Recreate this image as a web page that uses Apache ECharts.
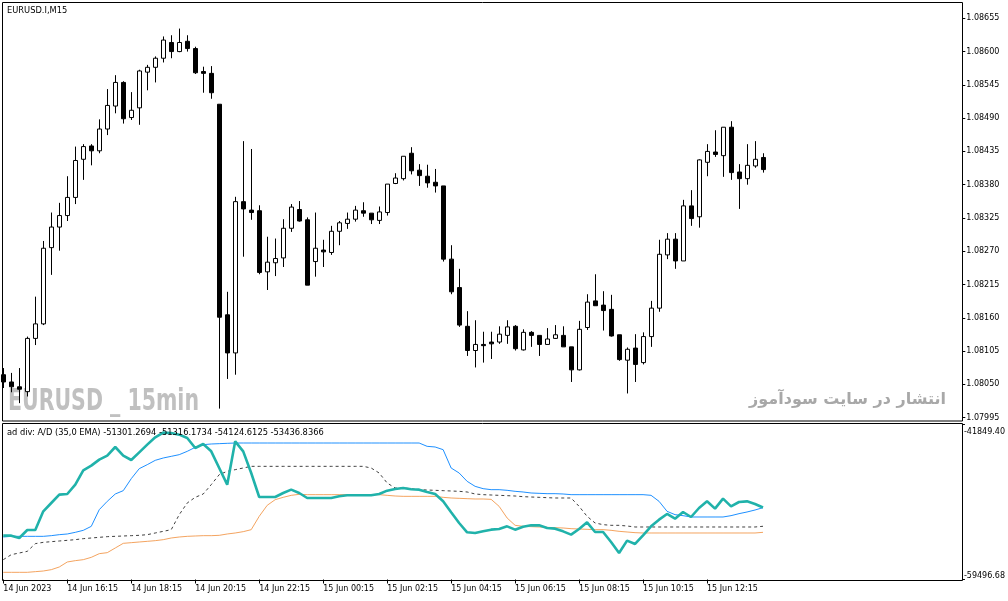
<!DOCTYPE html>
<html>
<head>
<meta charset="utf-8">
<script src="https://cdn.jsdelivr.net/npm/echarts@6/dist/echarts.min.js"></script>
<style>
html,body{margin:0;padding:0;background:#fff;}
#c{width:1008px;height:601px;}
</style>
</head>
<body>
<div id="c"></div>
<script>
// ---- Data ----
const xTickLabels = ["14 Jun 2023","14 Jun 16:15","14 Jun 18:15","14 Jun 20:15","14 Jun 22:15","15 Jun 00:15","15 Jun 02:15","15 Jun 04:15","15 Jun 06:15","15 Jun 08:15","15 Jun 10:15","15 Jun 12:15"];
const priceTicks = [1.07995,1.08050,1.08105,1.08160,1.08215,1.08270,1.08325,1.08380,1.08435,1.08490,1.08545,1.08600,1.08655];
const indTicks = [-59496.68,-41849.40];

const open = [1.08066,1.08054,1.08046,1.08038,1.08126,1.08150,1.08276,1.08310,1.08329,1.08359,
1.08422,1.08444,1.08436,1.08472,1.08510,1.08549,1.08491,1.08507,1.08566,1.08574,
1.08589,1.08615,1.08600,1.08617,1.08605,1.08567,1.08564,1.08513,1.08165,1.08102,
1.08352,1.08338,1.08337,1.08236,1.08251,1.08259,1.08308,1.08339,1.08322,1.08253,
1.08272,1.08268,1.08303,1.08316,1.08323,1.08337,1.08333,1.08321,1.08334,1.08382,
1.08390,1.08432,1.08404,1.08394,1.08384,1.08378,1.08257,1.08210,1.08146,1.08106,
1.08116,1.08120,1.08120,1.08131,1.08146,1.08107,1.08136,1.08131,1.08116,1.08126,
1.08131,1.08112,1.08074,1.08144,1.08188,1.08181,1.08174,1.08132,1.08090,1.08110,
1.08086,1.08129,1.08176,1.08264,1.08290,1.08254,1.08345,1.08327,1.08417,1.08434,
1.08428,1.08475,1.08401,1.08390,1.08411,1.08425];
const high = [1.08077,1.08069,1.08077,1.08129,1.08195,1.08287,1.08334,1.08350,1.08394,1.08443,
1.08447,1.08447,1.08488,1.08538,1.08561,1.08551,1.08533,1.08570,1.08578,1.08592,
1.08625,1.08627,1.08638,1.08627,1.08608,1.08575,1.08576,1.08513,1.08203,1.08360,
1.08452,1.08439,1.08346,1.08294,1.08291,1.08323,1.08348,1.08353,1.08326,1.08334,
1.08289,1.08312,1.08320,1.08334,1.08345,1.08351,1.08333,1.08344,1.08381,1.08399,
1.08427,1.08442,1.08414,1.08413,1.08406,1.08378,1.08280,1.08241,1.08171,1.08156,
1.08137,1.08137,1.08146,1.08156,1.08148,1.08141,1.08138,1.08131,1.08143,1.08148,
1.08146,1.08112,1.08155,1.08199,1.08232,1.08204,1.08198,1.08132,1.08111,1.08133,
1.08136,1.08188,1.08289,1.08300,1.08300,1.08355,1.08371,1.08422,1.08447,1.08470,
1.08475,1.08485,1.08414,1.08447,1.08452,1.08432];
const low = [1.08044,1.08037,1.08019,1.08030,1.08115,1.08148,1.08231,1.08271,1.08320,1.08348,
1.08388,1.08412,1.08432,1.08462,1.08498,1.08481,1.08487,1.08479,1.08536,1.08549,
1.08582,1.08589,1.08599,1.08600,1.08563,1.08532,1.08522,1.08010,1.08059,1.08066,
1.08261,1.08322,1.08232,1.08206,1.08229,1.08244,1.08302,1.08319,1.08214,1.08228,
1.08244,1.08264,1.08280,1.08307,1.08319,1.08327,1.08315,1.08315,1.08329,1.08381,
1.08387,1.08397,1.08378,1.08375,1.08367,1.08253,1.08199,1.08145,1.08097,1.08078,
1.08086,1.08092,1.08117,1.08117,1.08106,1.08106,1.08112,1.08097,1.08116,1.08125,
1.08112,1.08054,1.08073,1.08140,1.08180,1.08139,1.08129,1.08089,1.08035,1.08054,
1.08083,1.08112,1.08170,1.08257,1.08241,1.08254,1.08312,1.08309,1.08394,1.08426,
1.08393,1.08388,1.08340,1.08380,1.08408,1.08400];
const close = [1.08054,1.08046,1.08042,1.08126,1.08150,1.08275,1.08310,1.08329,1.08359,1.08420,
1.08443,1.08436,1.08472,1.08511,1.08549,1.08489,1.08503,1.08568,1.08574,1.08589,
1.08619,1.08600,1.08615,1.08605,1.08565,1.08564,1.08532,1.08161,1.08102,1.08352,
1.08340,1.08334,1.08235,1.08252,1.08258,1.08308,1.08343,1.08320,1.08214,1.08275,
1.08269,1.08303,1.08317,1.08323,1.08338,1.08333,1.08322,1.08335,1.08381,1.08391,
1.08427,1.08403,1.08395,1.08383,1.08378,1.08257,1.08203,1.08148,1.08106,1.08116,
1.08114,1.08117,1.08133,1.08145,1.08109,1.08136,1.08131,1.08116,1.08125,1.08132,
1.08112,1.08074,1.08141,1.08186,1.08180,1.08172,1.08130,1.08091,1.08108,1.08083,
1.08129,1.08176,1.08265,1.08290,1.08254,1.08345,1.08324,1.08421,1.08435,1.08430,
1.08475,1.08400,1.08390,1.08412,1.08422,1.08405];

const adLine = [-54505,-54505,-54771,-53860,-53860,-51735,-50786,-49838,-49762,-48699,
-47067,-46536,-45853,-45398,-44411,-45398,-45891,-45018,-44145,-43310,
-42779,-42817,-43007,-43386,-44525,-44069,-44904,-46802,-48699,-43766,
-44904,-47371,-50103,-50103,-50103,-49648,-49268,-49648,-50217,-50217,
-50217,-50217,-50027,-49913,-49913,-49913,-49913,-49762,-49382,-49192,
-49079,-49230,-49268,-49534,-49762,-50597,-51849,-53063,-54126,-54202,
-54012,-53822,-53746,-53443,-53822,-53481,-53329,-53329,-53633,-53708,
-54012,-54392,-53746,-52987,-54088,-54088,-55226,-56479,-55075,-55454,
-54467,-53443,-52684,-52039,-52570,-51811,-52380,-51356,-50597,-51431,
-50293,-51166,-50672,-50597,-50900,-51301.2694];
const blueLine = [-54658,-54582,-54582,-54582,-54582,-54582,-54506,-54392,-54316,-54126,
-53899,-53443,-51546,-50597,-49762,-49382,-48016,-46878,-46422,-45929,
-45663,-45474,-45284,-44904,-44449,-44145,-44069,-44031,-43993,-43956,
-43956,-43956,-43956,-43956,-43956,-43956,-43956,-43956,-43956,-43956,
-43956,-43956,-43956,-43956,-43956,-43956,-43956,-43956,-43956,-43956,
-43956,-43956,-43956,-44335,-44411,-44715,-46802,-47371,-48320,-48889,
-49155,-49268,-49268,-49344,-49458,-49534,-49648,-49686,-49724,-49724,
-49762,-49838,-49838,-49838,-49838,-49838,-49838,-49838,-49838,-49838,
-49838,-49913,-50597,-51735,-52115,-52229,-52380,-52380,-52380,-52380,
-52380,-52229,-52001,-51811,-51584,-51316.1734];
const orangeLine = [-58680,-58680,-58680,-58680,-58604,-58529,-58377,-58073,-57504,-57352,
-57238,-56973,-56555,-56441,-55910,-55379,-55303,-55227,-55151,-55075,
-54961,-54771,-54658,-54582,-54544,-54506,-54506,-54468,-54316,-54202,
-54050,-53823,-52305,-51052,-50407,-50142,-49914,-49800,-49838,-49838,
-49838,-49838,-49838,-49838,-49838,-49838,-49838,-49838,-49914,-49990,
-50028,-50028,-50028,-50028,-50028,-50142,-50217,-50255,-50293,-50331,
-50331,-50369,-51166,-52494,-53329,-53443,-53481,-53519,-53557,-53595,
-53633,-53709,-53747,-53784,-53823,-53823,-53898,-54012,-54088,-54164,
-54202,-54202,-54202,-54202,-54202,-54202,-54202,-54202,-54202,-54202,
-54202,-54202,-54202,-54202,-54202,-54124.6125];
const dashLine = [-57238,-56669,-56479,-56289,-55416,-55265,-55189,-55113,-55037,-54961,
-54847,-54771,-54695,-54619,-54582,-54544,-54506,-54468,-54392,-54202,
-54012,-53823,-52115,-50786,-50142,-49762,-48699,-47561,-47181,-46992,
-46802,-46612,-46612,-46612,-46612,-46612,-46612,-46612,-46612,-46612,
-46612,-46612,-46612,-46612,-46612,-46612,-46802,-47371,-48510,-49079,
-49079,-49155,-49268,-49307,-49344,-49382,-49420,-49458,-49534,-49762,
-49838,-49876,-49914,-49952,-49990,-50066,-50104,-50142,-50180,-50217,
-50217,-50217,-51166,-52305,-53063,-53253,-53329,-53329,-53405,-53519,
-53519,-53519,-53519,-53519,-53519,-53519,-53519,-53519,-53519,-53519,
-53519,-53519,-53519,-53519,-53519,-53436.8366];

const barSlots = 120; // chart width in bar slots (empty space on the right)

// ---- Build ----
const cats = [];
for (let i = 0; i < barSlots; i++) {
  cats.push(i % 8 === 0 && (i / 8) < xTickLabels.length ? xTickLabels[i / 8] : '');
}
const candles = open.map((o, i) => [o, close[i], low[i], high[i]]);

const FONT = '"DejaVu Sans", Tahoma, sans-serif';
const chart = echarts.init(document.getElementById('c'), null, {renderer: 'canvas'});
chart.setOption({
  animation: false,
  backgroundColor: '#ffffff',
  grid: [
    {left: 3.3, width: 952, top: 2.5, height: 418.5},
    {left: 3.3, width: 952, top: 424.5, height: 155}
  ],
  xAxis: [
    {type: 'category', gridIndex: 0, data: cats, boundaryGap: false, show: false},
    {type: 'category', gridIndex: 1, data: cats, boundaryGap: false,
     axisLine: {show: false},
     axisTick: {show: true, length: 4, interval: (i, v) => v !== '', lineStyle: {color: '#000'}},
     axisLabel: {interval: 0, align: 'left', margin: 5, fontSize: 8, fontFamily: FONT, color: '#000'},
     splitLine: {show: false}}
  ],
  yAxis: [
    {type: 'value', gridIndex: 0, position: 'right', offset: 7,
     min: 1.079895, max: 1.086811, scale: true,
     axisLine: {show: false},
     axisTick: {show: true, length: 3, customValues: priceTicks, lineStyle: {color: '#000'}},
     axisLabel: {customValues: priceTicks, formatter: v => v.toFixed(5), margin: 4, fontSize: 8, fontFamily: FONT, color: '#000'},
     splitLine: {show: false}},
    {type: 'value', gridIndex: 1, position: 'right', offset: 7,
     min: -59496.68, max: -41849.40, scale: true,
     axisLine: {show: false},
     axisTick: {show: true, length: 3, customValues: indTicks, lineStyle: {color: '#000'}},
     axisLabel: {customValues: indTicks, formatter: v => v.toFixed(2), margin: 2, fontSize: 8, fontFamily: FONT, color: '#000',
                 padding: [3, 0, 0, 0],
                 verticalAlignMinLabel: 'bottom', verticalAlignMaxLabel: 'top'},
     splitLine: {show: false}}
  ],
  series: [
    {type: 'candlestick', xAxisIndex: 0, yAxisIndex: 0, data: candles, barWidth: 5,
     itemStyle: {color: '#ffffff', color0: '#000000', borderColor: '#000000', borderColor0: '#000000', borderColorDoji: '#000000', borderWidth: 1}},
    {type: 'line', xAxisIndex: 1, yAxisIndex: 1, data: dashLine, showSymbol: false, symbol: 'none',
     lineStyle: {color: '#404040', width: 1, type: [3, 3]}},
    {type: 'line', xAxisIndex: 1, yAxisIndex: 1, data: orangeLine, showSymbol: false, symbol: 'none',
     lineStyle: {color: '#F4A460', width: 1}},
    {type: 'line', xAxisIndex: 1, yAxisIndex: 1, data: blueLine, showSymbol: false, symbol: 'none',
     lineStyle: {color: '#1E90FF', width: 1}},
    {type: 'line', xAxisIndex: 1, yAxisIndex: 1, data: adLine, showSymbol: false, symbol: 'none',
     lineStyle: {color: '#20B2AA', width: 2.6}}
  ],
  graphic: [
    {type: 'text', z: 0, silent: true, x: 8, y: 402, scaleX: 0.76,
      style: {text: 'EURUSD _ 15min', x: 0, y: 0, verticalAlign: 'middle',
      font: 'bold 30px "Liberation Sans Narrow", "DejaVu Sans Condensed", sans-serif', fill: '#c0c0c0'}},
    {type: 'text', z: 0, silent: true, style: {text: 'انتشار در سایت سودآموز', x: 946, y: 400, align: 'right', verticalAlign: 'middle',
      font: 'bold 16px "DejaVu Sans", sans-serif', fill: '#a8a8a8'}},
    {type: 'text', z: 50, silent: true, style: {text: 'EURUSD.I,M15', x: 7, y: 11, verticalAlign: 'middle',
      font: '8.3px ' + FONT, fill: '#000'}},
    {type: 'text', z: 50, silent: true, style: {text: 'ad div: A/D (35,0 EMA) -51301.2694 -51316.1734 -54124.6125 -53436.8366', x: 7, y: 432.5, verticalAlign: 'middle',
      font: '8.3px ' + FONT, fill: '#000'}},
    {type: 'rect', z: 100, silent: true, shape: {x: 2.5, y: 2.5, width: 960, height: 418.5},
      style: {fill: 'none', stroke: '#000', lineWidth: 1}},
    {type: 'rect', z: 100, silent: true, shape: {x: 2.5, y: 423.5, width: 960, height: 157},
      style: {fill: 'none', stroke: '#000', lineWidth: 1}}
  ]
});
</script>
</body>
</html>
